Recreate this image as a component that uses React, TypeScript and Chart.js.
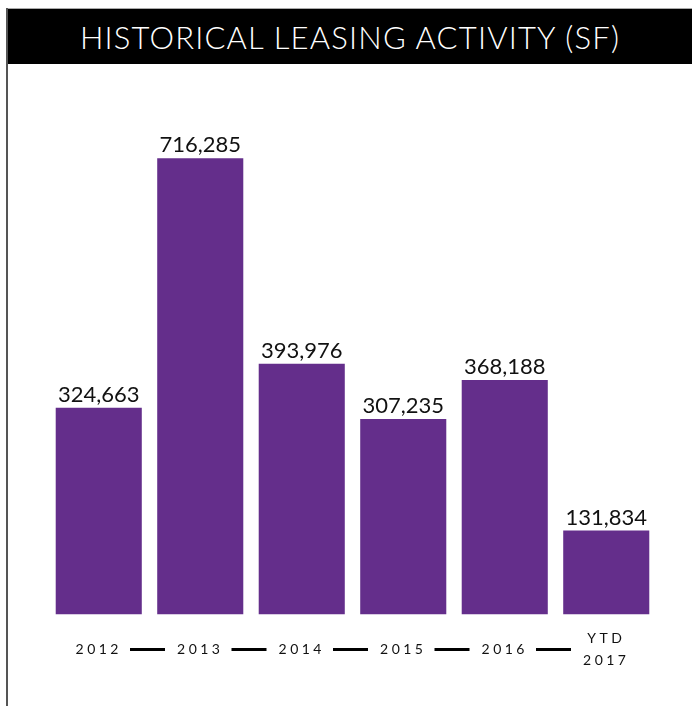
import React, { useEffect, useRef } from "react";
import { Chart, registerables } from "chart.js";

Chart.register(...registerables);

const TITLE = "HISTORICAL LEASING ACTIVITY (SF)";
const categories: string[][] = [["2012"], ["2013"], ["2014"], ["2015"], ["2016"], ["YTD", "2017"]];
const values: number[] = [324663, 716285, 393976, 307235, 368188, 131834];
const Y_MAX = 800000;
const BAR_COLOR = "#642E8B";
const FONT = "Lato, 'Open Sans', sans-serif";
const TICK_PADDING = 24;

const tickSpacingPlugin = {
  id: "tickSpacing",
  beforeDraw(chart: any) {
    chart.ctx.letterSpacing = "3.5px";
  },
};

const dashPlugin = {
  id: "dashes",
  afterDraw(chart: any) {
    const xs = chart.scales.x;
    const ctx = chart.ctx;
    const lh = 14 * 1.55;
    const y = xs.top + TICK_PADDING + lh / 2;
    ctx.save();
    ctx.strokeStyle = "#000";
    ctx.lineWidth = 3;
    for (let i = 0; i < categories.length - 1; i++) {
      const mid = (xs.getPixelForTick(i) + xs.getPixelForTick(i + 1)) / 2 - 2;
      ctx.beginPath();
      ctx.moveTo(mid - 17.5, y);
      ctx.lineTo(mid + 17.5, y);
      ctx.stroke();
    }
    ctx.restore();
  },
};

const valueLabelPlugin = {
  id: "valueLabels",
  afterDraw(chart: any) {
    const ctx = chart.ctx;
    const meta = chart.getDatasetMeta(0);
    ctx.save();
    ctx.letterSpacing = "0px";
    ctx.font = `400 22px ${FONT}`;
    ctx.fillStyle = "#111";
    ctx.textAlign = "center";
    ctx.textBaseline = "alphabetic";
    meta.data.forEach((bar: any, i: number) => {
      ctx.fillText(values[i].toLocaleString("en-US"), bar.x, bar.y - 6);
    });
    ctx.restore();
    ctx.letterSpacing = "0px";
  },
};

export default function App() {
  const ref = useRef<HTMLCanvasElement | null>(null);

  useEffect(() => {
    if (!ref.current) return;
    const chart = new Chart(ref.current, {
      type: "bar",
      data: {
        labels: categories,
        datasets: [
          {
            data: values,
            backgroundColor: BAR_COLOR,
            borderWidth: 0,
            barPercentage: 0.848,
            categoryPercentage: 1,
          },
        ],
      },
      options: {
        animation: false,
        responsive: false,
        devicePixelRatio: 1,
        layout: { padding: { left: 48, right: 35, top: 41, bottom: 0 } },
        plugins: {
          legend: { display: false },
          tooltip: { enabled: false },
          title: { display: false },
        },
        scales: {
          x: {
            grid: { display: false, drawTicks: false },
            border: { display: false },
            ticks: {
              color: "#111",
              font: { family: FONT, size: 14, lineHeight: 1.55 },
              padding: TICK_PADDING,
              crossAlign: "center",
              maxRotation: 0,
              autoSkip: false,
            },
          },
          y: { display: false, min: 0, max: Y_MAX },
        },
      },
      plugins: [tickSpacingPlugin, dashPlugin, valueLabelPlugin],
    });
    return () => chart.destroy();
  }, []);

  return (
    <div style={{ position: "fixed", left: 0, top: 0, width: 692, height: 706, background: "#fff", overflow: "hidden" }}>
      <div style={{ position: "absolute", left: 6, top: 8, width: 686, height: 1, background: "#aaa" }} />
      <div style={{ position: "absolute", left: 6, top: 8, width: 2, height: 698, background: "#555" }} />
      <div
        style={{
          position: "absolute",
          left: 8,
          top: 9,
          width: 684,
          height: 55,
          background: "#000",
          color: "#fff",
          display: "flex",
          alignItems: "center",
          justifyContent: "center",
          boxSizing: "border-box",
          paddingTop: 0,
          fontFamily: FONT,
          fontWeight: 300,
          fontSize: 31,
          letterSpacing: "1.2px",
          whiteSpace: "nowrap",
        }}
      >
        {TITLE}
      </div>
      <canvas ref={ref} width={692} height={642} style={{ position: "absolute", left: 0, top: 64, width: 692, height: 642 }} />
    </div>
  );
}
